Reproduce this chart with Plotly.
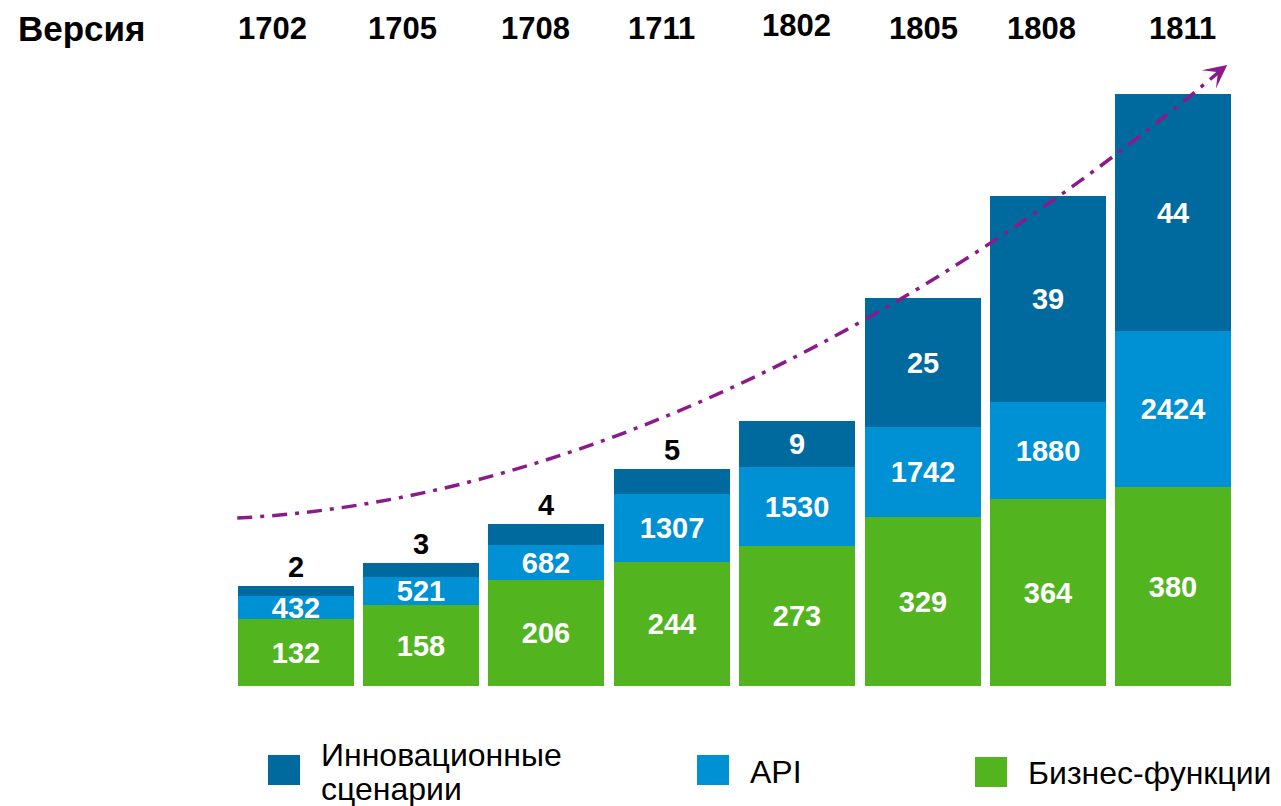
import plotly.graph_objects as go

# ---- data ----
versions = ["1702", "1705", "1708", "1711", "1802", "1805", "1808", "1811"]
biz_values = [132, 158, 206, 244, 273, 329, 364, 380]
api_values = [432, 521, 682, 1307, 1530, 1742, 1880, 2424]
innov_values = [2, 3, 4, 5, 9, 25, 39, 44]
# drawn segment heights (chart units)
biz_heights = [67.5, 81.5, 106.5, 124.5, 140.5, 169, 187, 199.5]
api_heights = [23, 27.3, 34.3, 67.7, 79, 89.7, 97.3, 156]
innov_heights = [9.3, 14.4, 21.7, 25, 46, 129, 205.7, 236.7]
series_names = ["Инновационные сценарии", "API", "Бизнес-функции"]
axis_title = "Версия"

# ---- styles ----
DARK = "#006a9e"
BLUE = "#0090d4"
GREEN = "#52b520"
PURPLE = "#8b1a8b"
FONT = "Liberation Sans, Arial, sans-serif"

W, H = 1281, 806
OFF = 8  # page body margin
# plot area in page pixels
PL, PR, PT, PB = 233, 1236, 60, 686
PW, PH = PR - PL, PB - PT

# header label placement tweaks (pixels, layout only)
HEADER_XSHIFT = [-23, -19, -11, -10, -1, 1, -6, 9]
HEADER_YSHIFT = [0, 0, 0, 0, 3, 0, 0, 0]


def px(xp):
    return (xp - PL) / PW


def py(yp):
    return (PB - yp) / PH


x = list(range(len(versions)))
bar_w = 0.925
lab = dict(size=29, family=FONT, weight="bold")

fig = go.Figure()

fig.add_trace(go.Bar(
    x=x, y=biz_heights, name=series_names[2], marker_color=GREEN,
    marker_line_width=0, width=bar_w,
    text=[str(v) for v in biz_values], textposition="inside",
    insidetextanchor="middle", constraintext="none",
    insidetextfont=dict(color="white", **lab),
    hoverinfo="skip",
))
fig.add_trace(go.Bar(
    x=x, y=api_heights, name=series_names[1], marker_color=BLUE,
    marker_line_width=0, width=bar_w,
    text=[str(v) for v in api_values], textposition="inside",
    insidetextanchor="middle", constraintext="none",
    insidetextfont=dict(color="white", **lab),
    hoverinfo="skip",
))
fig.add_trace(go.Bar(
    x=x, y=innov_heights, name=series_names[0], marker_color=DARK,
    marker_line_width=0, width=bar_w,
    text=[str(v) for v in innov_values],
    textposition=["outside" if h < 30 else "inside" for h in innov_heights],
    insidetextanchor="middle", constraintext="none",
    insidetextfont=dict(color="white", **lab),
    outsidetextfont=dict(color="black", **lab),
    cliponaxis=False,
    hoverinfo="skip",
))

# trend arrow (decorative)
p0 = (-0.466, 168)
c1 = (2.2, 185)
c2 = (5.0, 362)
p3 = (7.43, 621)
shapes = [dict(
    type="path", xref="x", yref="y",
    path=f"M {p0[0]},{p0[1]} C {c1[0]},{c1[1]} {c2[0]},{c2[1]} {p3[0]},{p3[1]}",
    line=dict(color=PURPLE, width=3.5, dash="15px,8px,4px,8px"),
    layer="above",
)]

annotations = [
    dict(x=p3[0], y=p3[1], xref="x", yref="y", ax=-9, ay=7, showarrow=True,
         arrowhead=3, arrowsize=1.3, arrowwidth=3, arrowcolor=PURPLE, text=""),
    dict(x=px(16), y=py(28), xref="paper", yref="paper", xanchor="left",
         yanchor="middle", text=axis_title, showarrow=False,
         font=dict(size=35, family=FONT, color="black", weight="bold")),
]
for i, v in enumerate(versions):
    annotations.append(dict(
        x=i, y=py(29), xref="x", yref="paper", xanchor="center", yanchor="middle",
        text=v, showarrow=False, xshift=HEADER_XSHIFT[i], yshift=HEADER_YSHIFT[i],
        font=dict(size=31, family=FONT, color="black", weight="bold")))

# custom legend
legend_items = [
    (DARK, 268, 755),
    (BLUE, 697, 755),
    (GREEN, 975, 757),
]
for col, lx, ly in legend_items:
    shapes.append(dict(type="rect", xref="paper", yref="paper",
                       x0=px(lx), x1=px(lx + 32), y0=py(ly), y1=py(ly + 30),
                       fillcolor=col, line=dict(width=0), layer="above"))
lf = dict(size=32, family=FONT, color="black")
name0 = series_names[0].split(" ")
annotations += [
    dict(x=px(319), y=py(755), xref="paper", yref="paper", xanchor="left",
         yanchor="middle", text=name0[0], showarrow=False, font=lf),
    dict(x=px(319), y=py(789), xref="paper", yref="paper", xanchor="left",
         yanchor="middle", text=name0[1], showarrow=False, font=lf),
    dict(x=px(748), y=py(772), xref="paper", yref="paper", xanchor="left",
         yanchor="middle", text=series_names[1], showarrow=False, font=lf),
    dict(x=px(1026), y=py(773), xref="paper", yref="paper", xanchor="left",
         yanchor="middle", text=series_names[2], showarrow=False, font=lf),
]

fig.update_layout(
    width=W, height=H,
    margin=dict(l=PL - OFF, r=W - (PR - OFF), t=PT - OFF, b=H - (PB - OFF), pad=0),
    barmode="stack", bargap=0,
    paper_bgcolor="white", plot_bgcolor="white",
    showlegend=False,
    xaxis=dict(range=[-0.5, len(versions) - 0.5], visible=False, fixedrange=True),
    yaxis=dict(range=[0, PH], visible=False, fixedrange=True),
    annotations=annotations,
    shapes=shapes,
    font=dict(family=FONT),
)

fig.write_html("out.html")
